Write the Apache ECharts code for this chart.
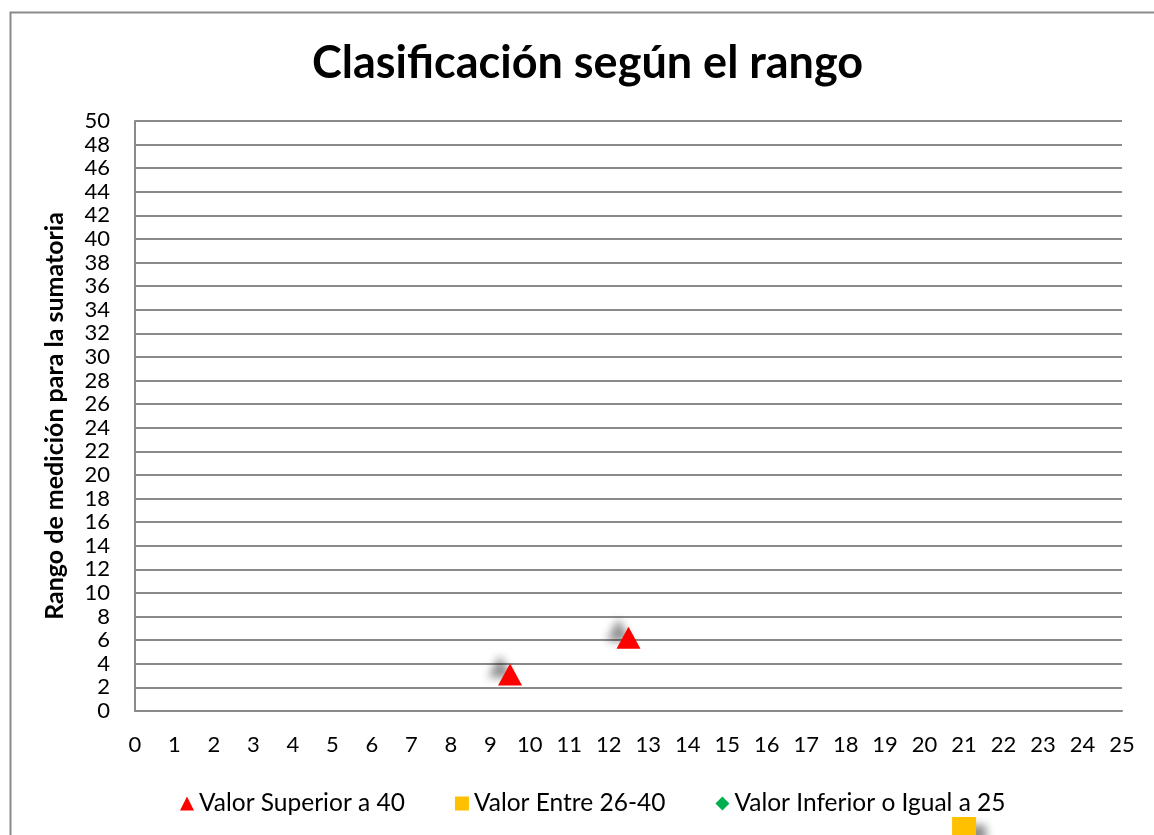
<!DOCTYPE html>
<html>
<head>
<meta charset="utf-8">
<script src="https://cdn.jsdelivr.net/npm/echarts@6/dist/echarts.min.js"></script>
<style>
html,body{margin:0;padding:0;background:#fff;}
#chart{width:1154px;height:835px;}
</style>
</head>
<body>
<div id="chart"></div>
<script>
const titleText = 'Clasificación según el rango';
const yAxisTitle = 'Rango de medición para la sumatoria';
const seriesNames = ['Valor Superior a 40', 'Valor Entre 26-40', 'Valor Inferior o Igual a 25'];
const superiorData = [[9.5, 3.1], [12.5, 6.2]];
const entreData = [[21, -10]];
const inferiorData = [];
const xMin = 0, xMax = 25, xStep = 1;
const yMin = 0, yMax = 50, yStep = 2;

const FONT = 'Lato, "Open Sans", sans-serif';
const chart = echarts.init(document.getElementById('chart'), null, {renderer: 'canvas'});
const shadow = {opacity: 1, shadowColor: 'rgba(0,0,0,0.45)', shadowBlur: 8, shadowOffsetX: -10, shadowOffsetY: -8};

chart.setOption({
  animation: false,
  backgroundColor: '#fff',
  textStyle: {fontFamily: FONT},
  graphic: [{
    type: 'rect', left: 8, top: 10, silent: true,
    shape: {width: 1170, height: 850},
    style: {fill: 'none', stroke: '#8a8a8a', lineWidth: 2}
  }],
  title: {
    text: titleText, left: 307, top: 36,
    textStyle: {fontFamily: FONT, fontSize: 45, fontWeight: 'bold', color: '#000'}
  },
  grid: {left: 135, right: 32, top: 121, bottom: 124, containLabel: false},
  legend: {
    top: 786, left: 175, itemGap: 50, itemWidth: 14, itemHeight: 14,
    textStyle: {fontFamily: FONT, fontSize: 24.5, color: '#000'},
    data: [
      {name: seriesNames[0], icon: 'triangle'},
      {name: seriesNames[1], icon: 'rect'},
      {name: seriesNames[2], icon: 'diamond'}
    ]
  },
  xAxis: {
    type: 'value', min: xMin, max: xMax, interval: xStep,
    axisLine: {show: true, lineStyle: {color: '#8a8a8a', width: 2}},
    axisTick: {show: false},
    splitLine: {show: false},
    axisLabel: {fontFamily: FONT, fontSize: 22, color: '#000', margin: 23}
  },
  yAxis: {
    type: 'value', min: yMin, max: yMax, interval: yStep,
    name: yAxisTitle, nameLocation: 'middle', nameRotate: 90, nameGap: 68,
    nameTextStyle: {fontFamily: FONT, fontSize: 25, fontWeight: 'bold', color: '#000'},
    axisLine: {show: true, lineStyle: {color: '#8a8a8a', width: 2}},
    axisTick: {show: false},
    splitLine: {show: true, lineStyle: {color: '#8a8a8a', width: 2}},
    axisLabel: {fontFamily: FONT, fontSize: 22, color: '#000', margin: 25}
  },
  series: [
    {
      name: seriesNames[0], type: 'scatter', data: superiorData,
      symbol: 'triangle', symbolSize: [24, 22], clip: false,
      itemStyle: Object.assign({color: '#ff0000'}, shadow)
    },
    {
      name: seriesNames[1], type: 'scatter', data: entreData,
      symbol: 'rect', symbolSize: 24, clip: false,
      itemStyle: Object.assign({color: '#ffc000'}, shadow, {shadowOffsetX: 10, shadowOffsetY: 8})
    },
    {
      name: seriesNames[2], type: 'scatter', data: inferiorData,
      symbol: 'diamond', symbolSize: 14, clip: false,
      itemStyle: Object.assign({color: '#00b050'}, shadow)
    }
  ]
});
</script>
</body>
</html>
